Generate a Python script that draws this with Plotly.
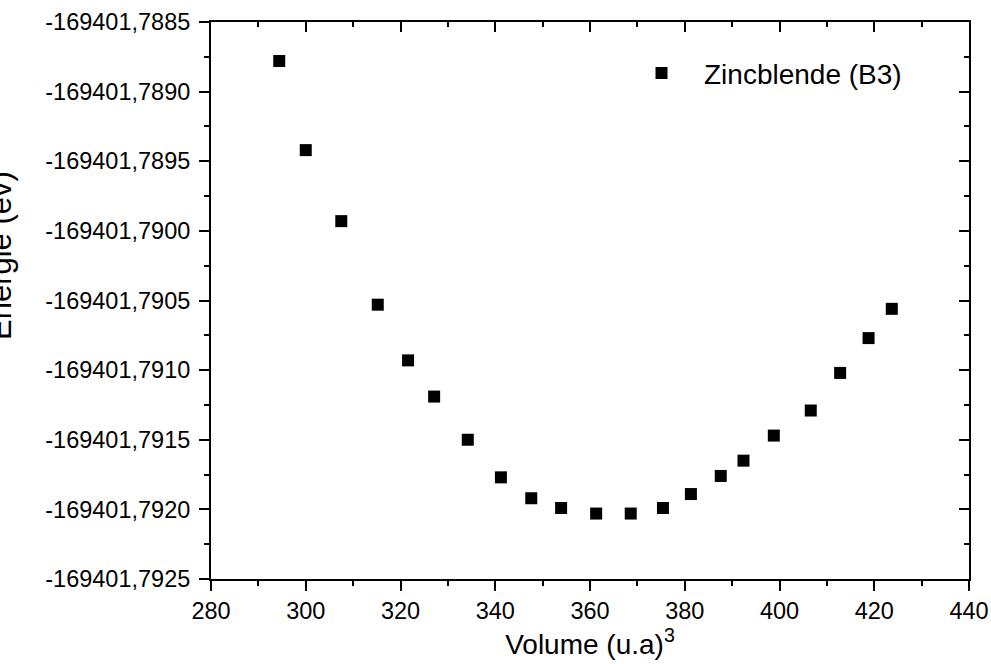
import plotly.graph_objects as go

volume = [294.4, 300.0, 307.5, 315.2, 321.6, 327.1, 334.2, 341.2, 347.6, 353.9,
          361.3, 368.6, 375.4, 381.3, 387.6, 392.4, 398.8, 406.6, 412.8, 418.8, 423.7]
energy = [-169401.78878, -169401.78942, -169401.78993, -169401.79053, -169401.79093,
          -169401.79119, -169401.79150, -169401.79177, -169401.79192, -169401.79199,
          -169401.79203, -169401.79203, -169401.79199, -169401.79189, -169401.79176,
          -169401.79165, -169401.79147, -169401.79129, -169401.79102, -169401.79077,
          -169401.79056]
series_name = "Zincblende (B3)"

x_ticks = [280, 300, 320, 340, 360, 380, 400, 420, 440]
y_ticks = [-169401.7925, -169401.7920, -169401.7915, -169401.7910, -169401.7905,
           -169401.7900, -169401.7895, -169401.7890, -169401.7885]
y_ticktext = [f"{v:.4f}".replace(".", ",") for v in y_ticks]
x_range = [280, 440]
y_range = [-169401.7925, -169401.7885]

FONT = "Liberation Sans, Arial, sans-serif"

fig = go.Figure()
fig.add_trace(go.Scatter(
    x=volume, y=energy, mode="markers", name=series_name,
    marker=dict(symbol="square", size=12, color="black"),
))
fig.add_trace(go.Scatter(x=[None], y=[None], xaxis="x2", yaxis="y2",
                         showlegend=False, hoverinfo="skip"))

common = dict(showline=True, linewidth=2, linecolor="black", ticklen=10,
              tickwidth=2, tickcolor="black", showgrid=False, zeroline=False,
              automargin=False)

fig.update_layout(
    width=991, height=664,
    margin=dict(l=211, r=22, t=22, b=85),
    plot_bgcolor="white", paper_bgcolor="white",
    font=dict(family=FONT, color="black"),
    showlegend=True,
    legend=dict(x=(619 - 211) / 758, y=0.9526, xanchor="left", yanchor="top",
                font=dict(size=28, family=FONT), bgcolor="rgba(0,0,0,0)",
                itemwidth=75),
    xaxis=dict(range=x_range, tickvals=x_ticks, ticks="outside",
               tickfont=dict(size=23.5, family=FONT),
               minor=dict(ticks="outside", ticklen=5, tickwidth=2,
                          tickcolor="black", tickmode="linear", tick0=280, dtick=10),
               title=dict(text="Volume (u.a)<sup>3</sup>",
                          font=dict(size=28, family=FONT), standoff=5),
               **common),
    yaxis=dict(range=y_range, tickvals=y_ticks, ticktext=y_ticktext, ticks="outside",
               tickfont=dict(size=23.5, family=FONT), ticklabelstandoff=4,
               minor=dict(ticks="outside", ticklen=5, tickwidth=2,
                          tickcolor="black", tickmode="linear",
                          tick0=-169401.7925, dtick=0.00025),
               **common),
    xaxis2=dict(range=x_range, overlaying="x", side="top", tickvals=x_ticks,
                ticks="inside", showticklabels=False,
                minor=dict(ticks="inside", ticklen=5, tickwidth=2,
                           tickcolor="black", tickmode="linear", tick0=280, dtick=10),
                **common),
    yaxis2=dict(range=y_range, overlaying="y", side="right", tickvals=y_ticks,
                ticks="inside", showticklabels=False,
                minor=dict(ticks="inside", ticklen=5, tickwidth=2,
                           tickcolor="black", tickmode="linear",
                           tick0=-169401.7925, dtick=0.00025),
                **common),
    annotations=[dict(text="Energie (ev)", textangle=-90, xref="paper", yref="paper",
                      x=(0 - 211) / 758, y=(579 - 256) / 557, xanchor="center",
                      yanchor="middle", showarrow=False,
                      font=dict(size=31, family=FONT, color="black"))],
)

fig.write_html("out.html")
